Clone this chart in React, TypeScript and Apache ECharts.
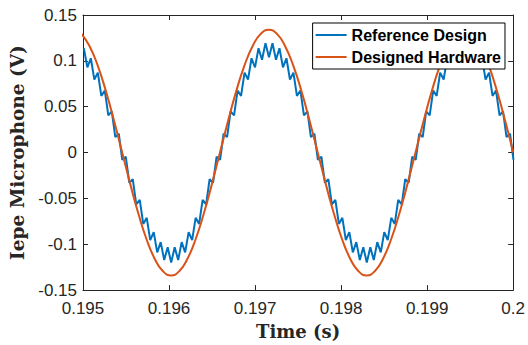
import React, { useEffect, useRef } from "react";
import * as echarts from "echarts";

// Time axis ticks (s)
const xTicks = [0.195, 0.196, 0.197, 0.198, 0.199, 0.2];
const yTicks = [-0.15, -0.1, -0.05, 0, 0.05, 0.1, 0.15];

// Reference Design (blue) – sampled signal, start time and sample step
const blueStart = 0.19501;
const blueStep = 0.0000406;
const blueValues = [
  0.1137, 0.0929, 0.1028, 0.0796, 0.0872, 0.0618, 0.0676, 0.0406, 0.045, 0.0169,
  0.0205, -0.008, -0.0045, -0.0329, -0.029, -0.0566, -0.0516, -0.0778, -0.0712, -0.0956,
  -0.0868, -0.1089, -0.0977, -0.1172, -0.1033, -0.12,
  -0.1033, -0.1172, -0.0977, -0.1089, -0.0868, -0.0956, -0.0712, -0.0778, -0.0516, -0.0566,
  -0.029, -0.0329, -0.0045, -0.008, 0.0205, 0.0169, 0.045, 0.0406, 0.0676, 0.0618,
  0.0872, 0.0796, 0.1028, 0.0929, 0.1137, 0.1012, 0.1193, 0.104,
  0.1193, 0.1012, 0.1137, 0.0929, 0.1028, 0.0796, 0.0872, 0.0618, 0.0676, 0.0406,
  0.045, 0.0169, 0.0205, -0.008, -0.0045, -0.0329, -0.029, -0.0566, -0.0516, -0.0778,
  -0.0712, -0.0956, -0.0868, -0.1089, -0.0977, -0.1172, -0.1033, -0.12,
  -0.1033, -0.1172, -0.0977, -0.1089, -0.0868, -0.0956, -0.0712, -0.0778, -0.0516, -0.0566,
  -0.029, -0.0329, -0.0045, -0.008, 0.0205, 0.0169, 0.045, 0.0406, 0.0676, 0.0618,
  0.0872, 0.0796, 0.1028, 0.0929, 0.1137, 0.1012, 0.1193, 0.104,
  0.1193, 0.1012, 0.1137, 0.0929, 0.1028, 0.0796, 0.0872, 0.0618, 0.0676, 0.0406,
  0.045, 0.0169, 0.0205, -0.008,
];

// Designed Hardware (orange) – sampled signal, start time and sample step
const orangeStart = 0.194982;
const orangeStep = 0.0000947;
const orangeValues = [
  0.1294, 0.116, 0.0948, 0.067, 0.0347, 0, -0.0347, -0.067, -0.0948, -0.116,
  -0.1294, -0.134, -0.1294, -0.116, -0.0948, -0.067, -0.0347, 0, 0.0347, 0.067,
  0.0948, 0.116, 0.1294, 0.134, 0.1294, 0.116, 0.0948, 0.067, 0.0347, 0,
  -0.0347, -0.067, -0.0948, -0.116, -0.1294, -0.134, -0.1294, -0.116, -0.0948, -0.067,
  -0.0347, 0, 0.0347, 0.067, 0.0948, 0.116, 0.1294, 0.134, 0.1294, 0.116,
  0.0948, 0.067, 0.0347, 0,
];

const seriesNames = ["Reference Design", "Designed Hardware"];

export default function App() {
  const ref = useRef<HTMLDivElement>(null);
  useEffect(() => {
    if (!ref.current) return;
    const chart = echarts.init(ref.current, null, { renderer: "svg" });
    const axisColor = "#262626";
    const blueData = blueValues.map((v, i) => [blueStart + i * blueStep, v]);
    const orangeData = orangeValues.map((v, i) => [orangeStart + i * orangeStep, v]);
    const xMin = xTicks[0];
    const xMax = xTicks[xTicks.length - 1];
    const yMin = yTicks[0];
    const yMax = yTicks[yTicks.length - 1];
    const common = {
      splitLine: { show: false },
      axisLine: { show: true, onZero: false, lineStyle: { color: axisColor, width: 1 } },
      axisTick: { show: true, inside: true, length: 5, lineStyle: { color: axisColor } },
    };
    chart.setOption({
      animation: false,
      backgroundColor: "#ffffff",
      grid: { left: 83, right: 14, top: 15, bottom: 51, show: false },
      legend: {
        show: true,
        data: seriesNames,
        orient: "vertical",
        right: 23,
        top: 23,
        icon: "rect",
        itemWidth: 31,
        itemHeight: 2,
        itemGap: 4,
        padding: [3, 4, 3, 3],
        borderColor: "#000000",
        borderWidth: 1,
        backgroundColor: "#ffffff",
        textStyle: {
          fontFamily: "Liberation Sans",
          fontWeight: "bold",
          fontSize: 16,
          lineHeight: 18,
          color: "#000000",
        },
      },
      xAxis: [
        {
          type: "value",
          min: xMin,
          max: xMax,
          interval: 0.001,
          position: "bottom",
          ...common,
          axisLabel: {
            fontFamily: "Liberation Sans",
            fontSize: 17,
            color: axisColor,
            margin: 10,
            formatter: (v: number) => String(+v.toFixed(3)),
          },
          name: "Time (s)",
          nameLocation: "middle",
          nameGap: 31,
          nameTextStyle: {
            fontFamily: "DejaVu Serif",
            fontWeight: "bold",
            fontSize: 18,
            color: axisColor,
          },
        },
        {
          type: "value",
          min: xMin,
          max: xMax,
          interval: 0.001,
          position: "top",
          ...common,
          axisLabel: { show: false },
        },
      ],
      yAxis: [
        {
          type: "value",
          min: yMin,
          max: yMax,
          interval: 0.05,
          position: "left",
          ...common,
          axisLabel: {
            fontFamily: "Liberation Sans",
            fontSize: 17,
            color: axisColor,
            margin: 6,
            formatter: (v: number) => String(+v.toFixed(2)),
          },
          name: "Iepe Microphone (V)",
          nameLocation: "middle",
          nameGap: 52,
          nameTextStyle: {
            fontFamily: "DejaVu Serif",
            fontWeight: "bold",
            fontSize: 18.5,
            color: axisColor,
          },
        },
        {
          type: "value",
          min: yMin,
          max: yMax,
          interval: 0.05,
          position: "right",
          ...common,
          axisLabel: { show: false },
        },
      ],
      series: [
        {
          name: seriesNames[0],
          type: "line",
          data: blueData,
          showSymbol: false,
          symbol: "none",
          clip: true,
          lineStyle: { color: "#0072BD", width: 2 },
          itemStyle: { color: "#0072BD" },
        },
        {
          name: seriesNames[1],
          type: "line",
          data: orangeData,
          smooth: true,
          showSymbol: false,
          symbol: "none",
          clip: true,
          lineStyle: { color: "#D95319", width: 2 },
          itemStyle: { color: "#D95319" },
        },
      ],
    });
    return () => chart.dispose();
  }, []);
  return (
    <div
      ref={ref}
      style={{ position: "absolute", left: 0, top: 0, width: 528, height: 345 }}
    />
  );
}
